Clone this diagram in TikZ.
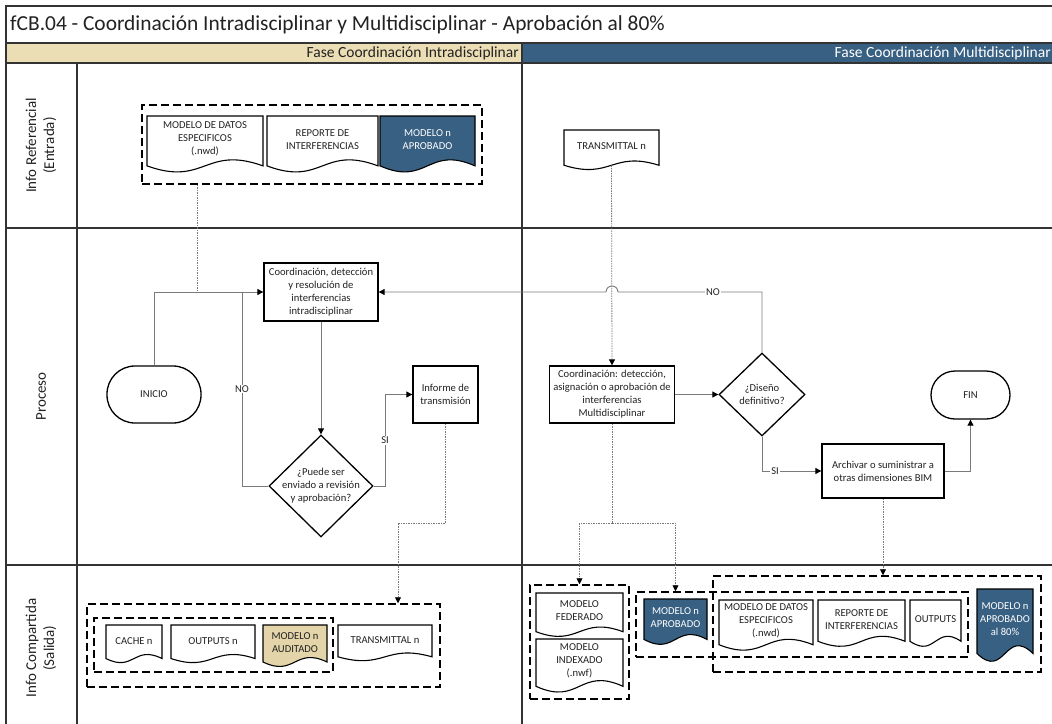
\documentclass[tikz,border=0pt]{standalone}
\usepackage{fontspec}
\setmainfont{Carlito}
\usetikzlibrary{arrows.meta,shapes.geometric,calc}
\definecolor{hdrbeige}{HTML}{EBDDB4}
\definecolor{steel}{HTML}{386082}
\definecolor{audit}{HTML}{E3D5A9}
\definecolor{wire}{HTML}{7A7A7A}
\definecolor{ink}{HTML}{222222}

% document symbol: name, x1, y1, x2, y2 (lowest point of the wave), fill, text colour, text
\newcommand\flowdoc[8]{%
  \filldraw[docline, fill=#6] (#2,#3) -- (#4,#3) -- (#4,{#3+0.86*(#5-#3)})
    .. controls ({0.5*(#2+#4)},{#3+0.5*(#5-#3)}) and ({0.5*(#2+#4)},{#3+1.22*(#5-#3)}) .. (#2,{#3+0.86*(#5-#3)}) -- cycle;
  \node[doctext, text=#7] (#1) at ({0.5*(#2+#4)},{#3+0.4*(#5-#3)}) {#8};
  \coordinate (#1 foot) at ({0.5*(#2+#4)},{#3+0.86*(#5-#3)});}

\begin{document}
\begin{tikzpicture}[x=1pt,y=-1pt,
  frame/.style={line width=1.6pt, draw=black!80},
  docline/.style={draw=black, line width=1.1pt},
  doctext/.style={align=center, font=\fontsize{10.6}{13}\selectfont, inner sep=1pt},
  proc/.style={draw=black, line width=1.3pt, fill=white, align=center, text=ink,
    font=\fontsize{10.6}{13}\selectfont, inner sep=0pt},
  dia/.style={diamond, draw=black, line width=1.3pt, fill=white, inner sep=0pt},
  dtext/.style={align=center, text=ink, font=\fontsize{10.6}{13}\selectfont, inner sep=0pt},
  grp/.style={draw=black, line width=1.5pt, dash pattern=on 8pt off 4pt, inner sep=0pt},
  tip/.style={-{Triangle[length=6pt,width=6pt,color=black]}},
  flow/.style={draw=wire, line width=0.9pt, tip},
  wireline/.style={draw=wire, line width=0.9pt},
  info/.style={draw=wire, line width=0.8pt, dash pattern=on 1.5pt off 1pt, tip},
  lbl/.style={fill=white, text=ink, font=\fontsize{10.5}{12}\selectfont, inner sep=1pt},
  lane/.style={rotate=90, align=center, text=ink, font=\fontsize{15}{18}\selectfont}
]
\useasboundingbox (0,0) rectangle (1052,723);

% swimlane frame
\begin{scope}
  \clip (0,0) rectangle (1052,723);
  \fill[hdrbeige] (6,43) rectangle (522,63);
  \fill[steel] (522,43) rectangle (1070,63);
  \draw[frame] (6,6) rectangle (1070,740);
  \draw[frame] (6,43) -- (1070,43);
  \draw[frame] (6,63) -- (1070,63);
  \draw[frame] (77,63) -- (77,740);
  \draw[frame] (522,43) -- (522,740);
  \draw[frame] (6,228) -- (1070,228);
  \draw[frame] (6,565) -- (1070,565);
\end{scope}
\node[anchor=west, text=ink, font=\fontsize{21.4}{24}\selectfont, inner sep=0pt] (title) at (10,25)
  {fCB.04 - Coordinación Intradisciplinar y Multidisciplinar - Aprobación al 80\%};
\node[anchor=east, text=ink, font=\fontsize{15.5}{17}\selectfont, inner sep=0pt] (phaseA) at (519,53.5)
  {Fase Coordinación Intradisciplinar};
\node[anchor=east, text=white, font=\fontsize{15.5}{17}\selectfont, inner sep=0pt] (phaseB) at (1051,53.5)
  {Fase Coordinación Multidisciplinar};

\node[lane] (laneIn) at (41,145.5) {Info Referencial\\(Entrada)};
\node[lane] (laneProc) at (41,396.5) {Proceso};
\node[lane] (laneOut) at (41,648) {Info Compartida\\(Salida)};

% input documents
\node[grp, minimum width=340, minimum height=79] (gTop) at (312,144.5) {};
\flowdoc{inDatos}{147}{116}{263}{174}{white}{ink}{MODELO DE DATOS\\ESPECIFICOS\\(.nwd)}
\flowdoc{inRep}{267}{116}{378}{174}{white}{ink}{REPORTE DE\\INTERFERENCIAS}
\flowdoc{inApr}{380}{116}{475}{174}{steel}{white}{MODELO n\\APROBADO}
\flowdoc{trans}{564}{130}{659}{171}{white}{ink}{TRANSMITTAL n}

% output documents, intradisciplinary phase
\node[grp, minimum width=353, minimum height=83] (gOutL) at (263.5,645.5) {};
\node[grp, minimum width=239, minimum height=54] (gInL) at (213.5,645) {};
\flowdoc{cache}{106}{625}{162}{664}{white}{ink}{CACHE n}
\flowdoc{outn}{171}{625}{255}{664}{white}{ink}{OUTPUTS n}
\flowdoc{aud}{263}{625}{327}{668}{audit}{ink}{MODELO n\\AUDITADO}
\flowdoc{transOut}{338}{625}{432}{662}{white}{ink}{TRANSMITTAL n}

% output documents, multidisciplinary phase
\node[grp, minimum width=99, minimum height=114] (gFed) at (579.5,642) {};
\node[grp, minimum width=332, minimum height=65] (gB2) at (802,624.5) {};
\node[grp, minimum width=328, minimum height=96] (gB3) at (877,624) {};
\flowdoc{fed}{536}{593}{623}{638}{white}{ink}{MODELO\\FEDERADO}
\flowdoc{idx}{536}{639}{623}{694}{white}{ink}{MODELO\\INDEXADO\\(.nwf)}
\flowdoc{apr}{644}{599}{707}{646}{steel}{white}{MODELO n\\APROBADO}
\flowdoc{outDatos}{719}{600}{813}{652}{white}{ink}{MODELO DE DATOS\\ESPECIFICOS\\(.nwd)}
\flowdoc{outRep}{818}{600}{905}{648}{white}{ink}{REPORTE DE\\INTERFERENCIAS}
\flowdoc{outs}{910}{600}{961}{648}{white}{ink}{OUTPUTS}
\flowdoc{apr80}{977}{589}{1033}{664}{steel}{white}{MODELO n\\APROBADO\\al 80\%}

% process steps
\node[proc, rounded corners=28pt, minimum width=94, minimum height=57] (inicio) at (154,394.5) {INICIO};
\node[proc, minimum width=114, minimum height=58] (b1) at (321,292)
  {Coordinación, detección\\y resolución de\\interferencias\\intradisciplinar};
\node[dia, minimum width=104, minimum height=102,
  label={[dtext]center:{¿Puede ser\\enviado a revisión\\y aprobación?}}] (d1) at (321,486) {};
\node[proc, minimum width=65, minimum height=57] (inf) at (445.5,394.5) {Informe de\\transmisión};
\node[proc, minimum width=125, minimum height=57] (bm) at (612,394.5)
  {Coordinación: detección,\\asignación o aprobación de\\interferencias\\Multidisciplinar};
\node[dia, minimum width=86, minimum height=83,
  label={[dtext]center:{¿Diseño\\definitivo?}}] (d2) at (762,394.5) {};
\node[proc, minimum width=122, minimum height=54] (arch) at (883,471)
  {Archivar o suministrar a\\otras dimensiones BIM};
\node[proc, rounded corners=24pt, minimum width=79, minimum height=48] (fin) at (970.5,395) {FIN};

% connectors
\coordinate (tapIn) at (197,292);
\coordinate (noL) at (242,292);
\coordinate (siL) at (385,486);
\coordinate (infK) at (398,523);
\coordinate (jmp) at (612,292);
\coordinate (split) at (612,523);

\draw[flow] (inicio.north) |- (b1.west);
\draw[info, -] (gTop.south -| tapIn) -- (tapIn);
\draw[flow] (b1.south) -- (d1.north);
\draw[wireline] (d1.west) -| node[lbl, pos=0.75] {NO} (noL);
\draw[flow] (d1.east) -- (siL) -- node[lbl] {SI} (siL |- inf.west) -- (inf.west);
\draw[info] (inf.south) |- (infK) -- (infK |- gOutL.north);

\draw[info] (trans foot) -- (bm.north);
\draw[flow] (d2.north) -- (d2.north |- jmp) -- node[lbl, pos=0.34] {NO} ([xshift=6pt]jmp)
  arc[start angle=0, end angle=180, radius=6pt] -- (b1.east);
\draw[flow] (bm.east) -- (d2.west);
\draw[flow] (d2.south) |- node[lbl, pos=0.61] {SI} (arch.west);
\draw[flow] (arch.east) -| (fin.south);
\draw[info] (arch.south) -- (arch.south |- gB3.north);
\draw[info, -] (bm.south) -- (split);
\draw[info] (split) -| (gFed.north);
\draw[info] (split) -| (apr foot |- gB2.north);
\end{tikzpicture}
\end{document}
